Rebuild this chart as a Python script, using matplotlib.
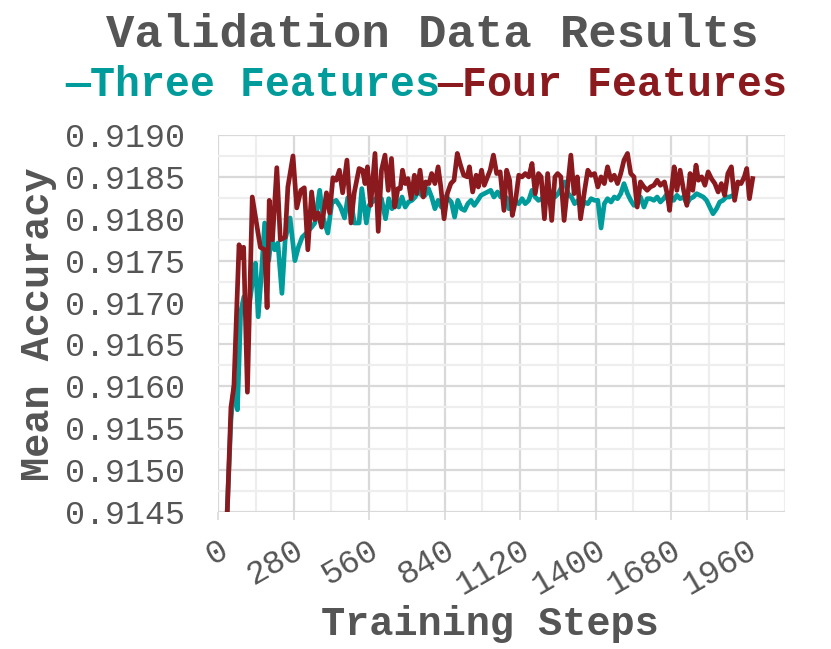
import matplotlib.pyplot as plt
from matplotlib.ticker import MultipleLocator

three_steps = [30, 48, 59, 72, 84, 96, 115, 127, 139, 149, 161, 173, 188, 198, 210,
               222, 237, 249, 267, 285, 298, 312, 328, 347, 359, 377, 389, 407, 422,
               438, 454, 469, 481, 493, 505,
               523, 533, 542, 550, 560, 572, 584, 597, 606, 621, 633, 645, 658, 670,
               682, 694, 706, 719, 731, 743, 755, 768, 780, 792, 804, 816, 828, 841,
               853, 865, 877, 889, 902, 914, 926, 938, 950, 963, 975, 987, 999, 1011,
               1023, 1036, 1048, 1060, 1072,
               1078, 1091, 1103, 1115, 1127, 1139, 1152, 1164, 1176, 1188, 1200, 1213,
               1225, 1237, 1249, 1261, 1274, 1286, 1298, 1310, 1322, 1335, 1347, 1359,
               1371, 1383, 1396, 1408, 1420, 1432, 1444, 1457, 1469, 1481, 1493, 1505,
               1518, 1530, 1542, 1554, 1566, 1579, 1591, 1603,
               1616, 1628, 1640, 1652, 1665, 1677, 1689, 1701, 1713, 1726, 1738, 1750,
               1762, 1774, 1787, 1799, 1811, 1823, 1835, 1848, 1860, 1872, 1884, 1896,
               1909]
three_acc = [0.91420, 0.91560, 0.91600, 0.91572, 0.91688, 0.91707, 0.91695, 0.91723,
             0.91747, 0.91683, 0.91735, 0.91795, 0.91750, 0.91778, 0.91763, 0.91771,
             0.91711, 0.91775, 0.91801, 0.91750, 0.91766, 0.91778, 0.91783, 0.91790,
             0.91795, 0.91834, 0.91802, 0.91783, 0.91819, 0.91822, 0.91814, 0.91801,
             0.91825, 0.91822, 0.91795,
             0.91795, 0.91836, 0.91814, 0.91795, 0.91816, 0.91820, 0.91824, 0.91814,
             0.91824, 0.91800, 0.91824, 0.91812, 0.91826, 0.91814, 0.91826, 0.91814,
             0.91820, 0.91822, 0.91826, 0.91834, 0.91828, 0.91828, 0.91836, 0.91826,
             0.91812, 0.91822, 0.91814, 0.91826, 0.91824, 0.91820, 0.91802, 0.91822,
             0.91812, 0.91810, 0.91818, 0.91822, 0.91816, 0.91822, 0.91828, 0.91830,
             0.91832, 0.91834, 0.91826, 0.91832, 0.91826, 0.91828, 0.91824,
             0.91812, 0.91818, 0.91820, 0.91818, 0.91824, 0.91818, 0.91822, 0.91834,
             0.91826, 0.91822, 0.91824, 0.91822, 0.91828, 0.91832, 0.91826, 0.91830,
             0.91838, 0.91844, 0.91830, 0.91826, 0.91818, 0.91822, 0.91812, 0.91820,
             0.91818, 0.91824, 0.91822, 0.91822, 0.91789, 0.91818, 0.91824, 0.91820,
             0.91826, 0.91824, 0.91830, 0.91842, 0.91830, 0.91822, 0.91816, 0.91818,
             0.91826, 0.91814, 0.91824, 0.91824,
             0.91822, 0.91826, 0.91820, 0.91824, 0.91830, 0.91828, 0.91822, 0.91828,
             0.91824, 0.91826, 0.91818, 0.91824, 0.91826, 0.91830, 0.91828, 0.91826,
             0.91822, 0.91814, 0.91806, 0.91812, 0.91820, 0.91822, 0.91826, 0.91826,
             0.91828]

four_steps = [30, 48, 59, 78, 88, 95, 109, 127, 157, 173, 182, 190, 202, 218, 231,
              249, 259, 278, 292, 307, 320, 333, 347, 359, 371, 384, 402, 414, 426,
              438, 450, 462, 478, 493, 505,
              523, 536, 545, 554, 566, 582, 594, 606, 619, 631, 643, 655, 667, 676,
              684, 694, 704, 716, 728, 737, 749, 761, 770, 782, 792, 804, 816, 826,
              838, 850, 863, 875, 887, 899, 911, 924, 932, 944, 957, 965, 977, 987,
              999, 1009, 1021, 1033, 1046, 1060, 1070,
              1081, 1091, 1103, 1115, 1127, 1139, 1152, 1164, 1176, 1188, 1198, 1210,
              1222, 1237, 1249, 1259, 1271, 1283, 1296, 1308, 1320, 1332, 1344, 1359,
              1371, 1383, 1396, 1408, 1420, 1432, 1444, 1457, 1469, 1481, 1493, 1505,
              1518, 1530, 1542, 1554, 1566, 1579, 1591, 1603,
              1616, 1628, 1640, 1655, 1665, 1674, 1683, 1691, 1701, 1713, 1726, 1738,
              1750, 1760, 1772, 1781, 1793, 1805, 1817, 1829, 1842, 1854, 1866, 1878,
              1890, 1903, 1915, 1927, 1939, 1951, 1960, 1970, 1982]
four_acc = [0.91410, 0.91575, 0.91600, 0.91769, 0.91754, 0.91766, 0.91593, 0.91826,
            0.91766, 0.91763, 0.91694, 0.91822, 0.91775, 0.91861, 0.91775, 0.91778,
            0.91838, 0.91875, 0.91813, 0.91834, 0.91837, 0.91763, 0.91832, 0.91799,
            0.91807, 0.91790, 0.91831, 0.91807, 0.91849, 0.91846, 0.91858, 0.91831,
            0.91870, 0.91795, 0.91831,
            0.91860, 0.91858, 0.91842, 0.91862, 0.91816, 0.91878, 0.91785, 0.91858,
            0.91876, 0.91834, 0.91872, 0.91814, 0.91836, 0.91836, 0.91858, 0.91842,
            0.91848, 0.91824, 0.91852, 0.91830, 0.91858, 0.91826, 0.91844, 0.91842,
            0.91854, 0.91842, 0.91862, 0.91838, 0.91800, 0.91830, 0.91842, 0.91846,
            0.91878, 0.91864, 0.91852, 0.91850, 0.91862, 0.91832, 0.91852, 0.91838,
            0.91858, 0.91840, 0.91850, 0.91858, 0.91876, 0.91854, 0.91856, 0.91810,
            0.91858,
            0.91846, 0.91804, 0.91822, 0.91852, 0.91850, 0.91854, 0.91850, 0.91866,
            0.91830, 0.91854, 0.91850, 0.91800, 0.91854, 0.91798, 0.91850, 0.91854,
            0.91850, 0.91798, 0.91838, 0.91876, 0.91830, 0.91850, 0.91800, 0.91834,
            0.91858, 0.91852, 0.91854, 0.91838, 0.91850, 0.91842, 0.91862, 0.91846,
            0.91852, 0.91842, 0.91854, 0.91870, 0.91878, 0.91854, 0.91850, 0.91814,
            0.91844, 0.91838, 0.91834, 0.91838,
            0.91840, 0.91846, 0.91840, 0.91844, 0.91830, 0.91810, 0.91840, 0.91862,
            0.91834, 0.91858, 0.91834, 0.91816, 0.91854, 0.91834, 0.91864, 0.91846,
            0.91850, 0.91840, 0.91856, 0.91848, 0.91842, 0.91832, 0.91842, 0.91828,
            0.91854, 0.91862, 0.91822, 0.91844, 0.91842, 0.91850, 0.91860, 0.91824,
            0.91848]

x_ticks = [0, 280, 560, 840, 1120, 1400, 1680, 1960]
y_ticks = [0.9145, 0.9150, 0.9155, 0.9160, 0.9165, 0.9170, 0.9175, 0.9180, 0.9185, 0.9190]

TEAL = '#009b9b'
RED = '#8b1a1f'
GREY = '#555555'
plt.rcParams['font.family'] = 'Liberation Mono'

fig = plt.figure(figsize=(8.31, 6.49), dpi=100)
ax = fig.add_axes([218/831, 1 - 512/649, (784.5-218)/831, (512-135)/649])

ax.plot(three_steps, three_acc, color=TEAL, lw=3.4, solid_joinstyle='round')
ax.plot(four_steps, four_acc, color=RED, lw=3.4, solid_joinstyle='round')

ax.set_xlim(0, 2100)
ax.set_ylim(0.9145, 0.9190)
ax.set_xticks(x_ticks)
ax.set_xticklabels([str(t) for t in x_ticks])
ax.set_yticks(y_ticks)
ax.set_yticklabels(['%.4f' % v for v in y_ticks])
ax.xaxis.set_minor_locator(MultipleLocator(140))
ax.yaxis.set_minor_locator(MultipleLocator(0.00025))

ax.grid(which='major', color='#d9d9d9', lw=1.6)
ax.grid(which='minor', color='#eeeeee', lw=1.6)
ax.set_axisbelow(True)
for s in ax.spines.values():
    s.set_visible(False)

ax.tick_params(axis='y', which='both', length=0, pad=24, labelsize=24, labelcolor=GREY)
ax.tick_params(axis='x', which='major', length=6, width=1.2, color='#d9d9d9',
               pad=10, labelsize=24, labelcolor=GREY)
ax.tick_params(axis='x', which='minor', length=0)
for lab in ax.get_xticklabels():
    lab.set_rotation(30)
    lab.set_ha('right')
    lab.set_va('top')
    lab.set_rotation_mode('anchor')

fig.text(0.52, 0.946, 'Validation Data Results', ha='center', va='center',
         fontsize=34, fontweight='bold', color=GREY)
fig.text(65/831, 0.869, '\u2014Three Features', ha='left', va='center',
         fontsize=30, fontweight='bold', color=TEAL)
fig.text(437/831, 0.869, '\u2014Four Features', ha='left', va='center',
         fontsize=30, fontweight='bold', color=RED)
fig.text(38/831, 1 - 324/649, 'Mean Accuracy', ha='center', va='center', rotation=90,
         fontsize=29, fontweight='bold', color=GREY)
fig.text(490/831, 1 - 624/649, 'Training Steps', ha='center', va='center',
         fontsize=29, fontweight='bold', color=GREY)

fig.savefig('out.png', dpi=100)
